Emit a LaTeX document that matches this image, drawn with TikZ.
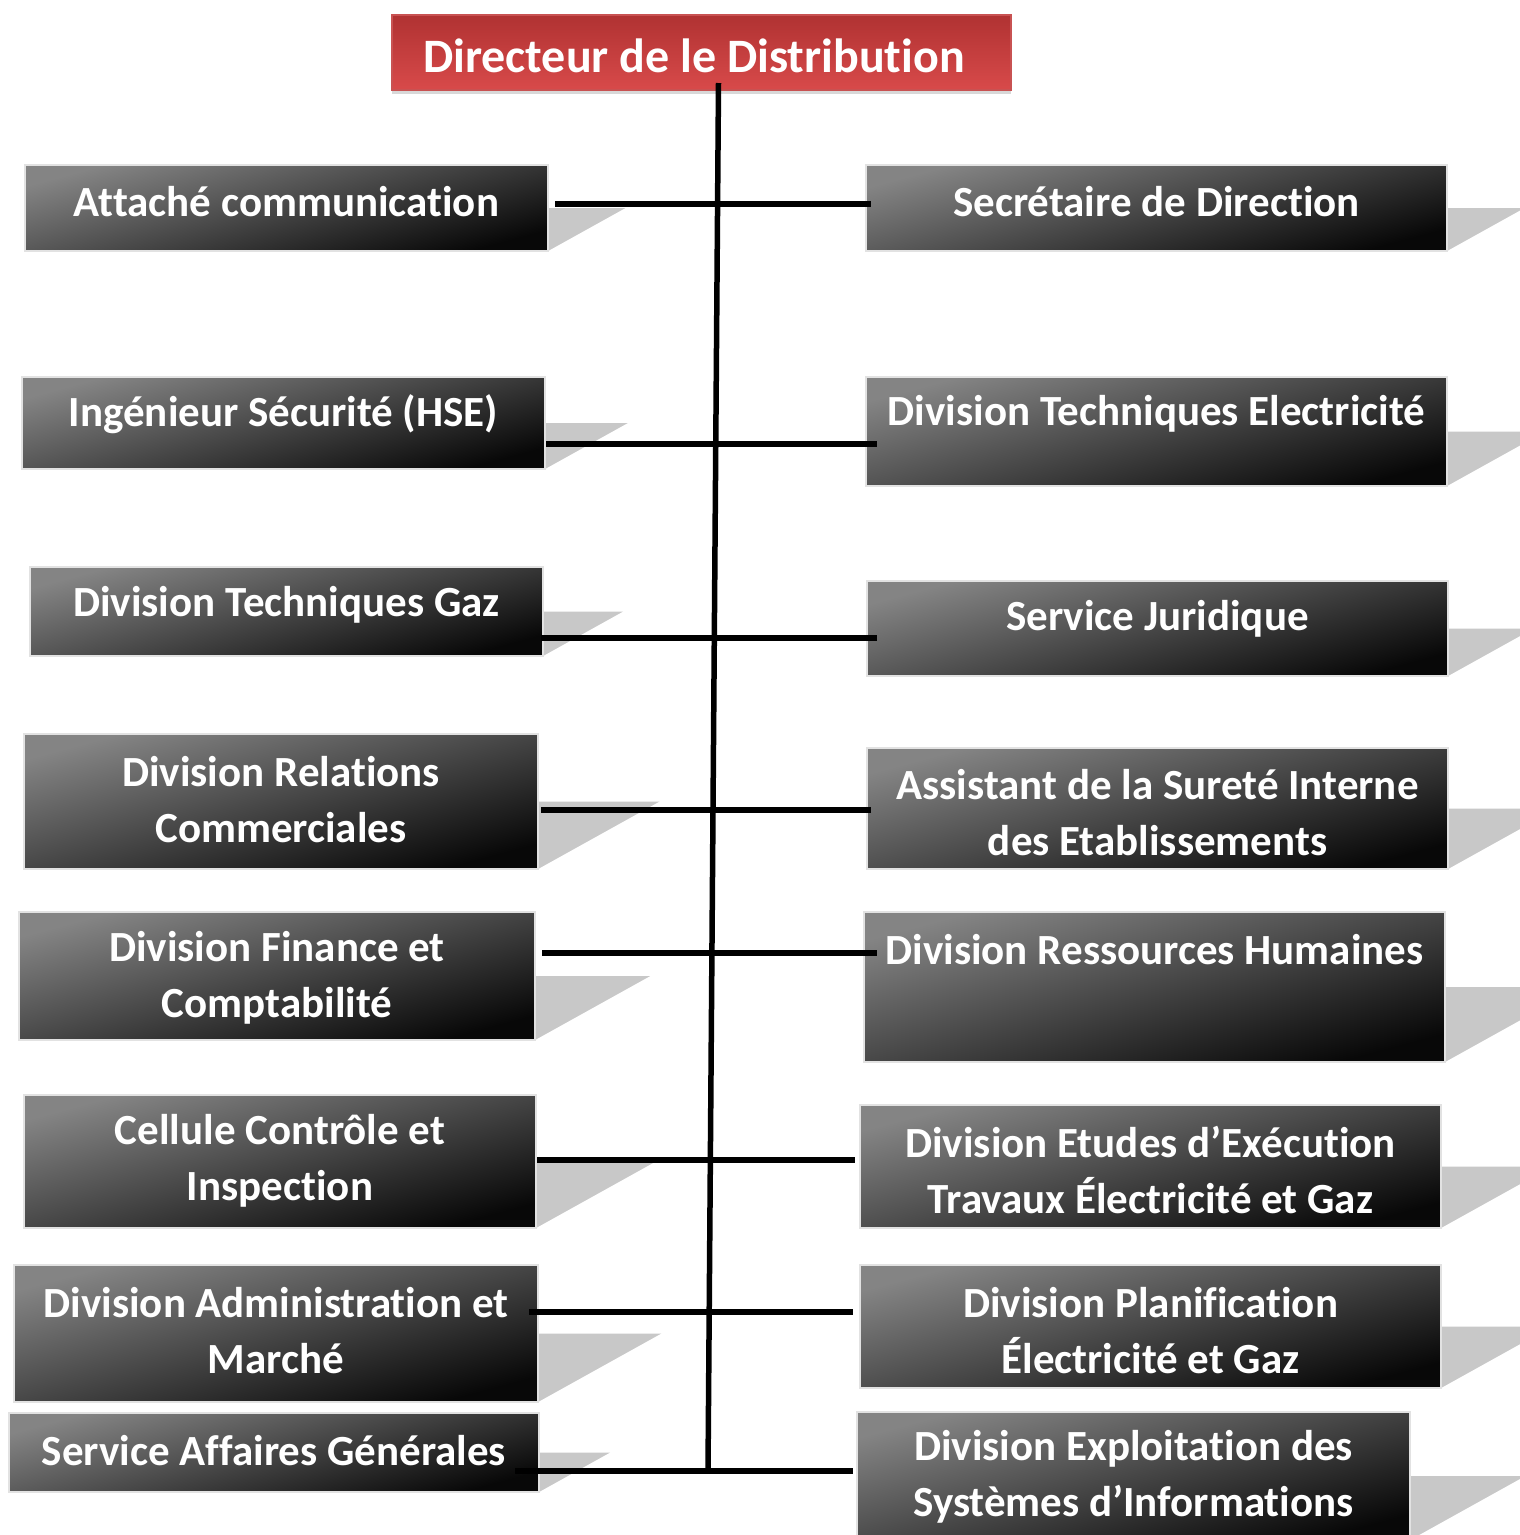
\documentclass[tikz,border=0pt]{standalone}
\usepackage{fontspec}
\setmainfont{Carlito}[Ligatures=NoCommon]
\usetikzlibrary{shadows}
\definecolor{boxlight}{RGB}{132,132,132}
\definecolor{boxdark}{RGB}{8,8,8}
\definecolor{boxedge}{RGB}{226,226,226}
\definecolor{sidegray}{RGB}{200,200,200}
\definecolor{redtop}{RGB}{176,50,50}
\definecolor{redbot}{RGB}{216,74,74}
\definecolor{rededge}{RGB}{200,82,82}
\tikzset{
  orgbox/.style={draw=boxedge, line width=2.5pt, top color=boxlight, bottom color=boxdark, shading angle=15, inner sep=0pt},
  orgtext/.style={text=white, font=\bfseries\fontsize{43}{56}\selectfont, align=center, inner sep=0pt},
  dirbox/.style={draw=rededge, line width=2pt, top color=redtop, bottom color=redbot, inner sep=0pt,
    drop shadow={shadow xshift=0pt, shadow yshift=-4pt, opacity=0.3}},
  dirtext/.style={text=white, font=\bfseries\fontsize{48}{56}\selectfont, inner sep=0pt},
  conn/.style={line width=5.5pt, black},
  sidetri/.style={fill=sidegray},
}
\newcommand\obox[7]{%
  \pgfmathsetmacro\oym{(#3+#5)/2}%
  \pgfmathsetmacro\osw{0.9*(#5-#3)}%
  \fill[sidetri] (#4,\oym) -- ++(\osw,0) -- (#4,#5) -- cycle;
  \node[orgbox, minimum width={#4-#2}, minimum height={#5-#3}] (#1) at ({(#2+#4)/2},{(#3+#5)/2}) {};
  \node[orgtext] (#1t) at ({(#2+#4)/2},#6) {#7};
}
\begin{document}
\begin{tikzpicture}[x=1pt,y=-1pt]
\useasboundingbox (0,0) rectangle (1520,1535);
\clip (0,0) rectangle (1520,1535);
\fill[white] (0,0) rectangle (1520,1535);

\node[dirbox, minimum width=619, minimum height=75] (dir) at (701.5,52.5) {};
\node[dirtext] (dirt) at (694,56) {Directeur de le Distribution};

\obox{l1}{25}{165}{548}{251}{202}{Attaché communication}
\obox{l2}{22}{377}{545}{469}{414}{Ingénieur Sécurité (HSE)}
\obox{l3}{30}{567}{543}{656}{605}{Division Techniques Gaz}
\obox{l4}{24}{734}{538}{869}{800}{Division Relations\\Commerciales}
\obox{l5}{19}{912}{535}{1040}{978}{Division Finance et\\Comptabilité}
\obox{l6}{24}{1095}{536}{1228}{1161}{Cellule Contrôle et\\Inspection}
\obox{l7}{14}{1265}{538}{1402}{1331}{Division Administration et\\Marché}
\obox{l8}{9}{1413}{539}{1492}{1451}{Service Affaires Générales}

\obox{r1}{866}{165}{1447}{251}{202}{Secrétaire de Direction}
\obox{r2}{866}{377}{1447}{486}{414}{Division Techniques Electricité}
\obox{r3}{867}{581}{1448}{676}{619}{Service Juridique}
\obox{r4}{867}{748}{1448}{869}{813}{Assistant de la Sureté Interne\\des Etablissements}
\obox{r5}{864}{912}{1445}{1062}{950}{Division Ressources Humaines}
\obox{r6}{860}{1105}{1441}{1228}{1170}{Division Etudes d’Exécution\\Travaux Électricité et Gaz}
\obox{r7}{860}{1265}{1441}{1388}{1331}{Division Planification\\Électricité et Gaz}
\obox{r8}{857}{1412}{1410}{1540}{1477}{Division Exploitation des\\Systèmes d’Informations}

\coordinate (tb) at (708,1471);
\draw[conn] ([shift={(17,-8)}]dir.south) -- (tb);

\coordinate (j1) at (716,204);
\coordinate (j2) at (715,444);
\coordinate (j3) at (714,638);
\coordinate (j4) at (713,810);
\coordinate (j5) at (712,953);
\coordinate (j6) at (711,1160);
\coordinate (j7) at (710,1312);
\coordinate (j8) at (708,1471);

\draw[conn, shorten <=6pt, shorten >=-6pt] (l1.east |- j1) -- (r1.west |- j1);
\draw[conn, shorten <=0pt, shorten >=-12pt] (l2.east |- j2) -- (r2.west |- j2);
\draw[conn, shorten <=-3pt, shorten >=-11pt] (l3.east |- j3) -- (r3.west |- j3);
\draw[conn, shorten <=2pt, shorten >=-5pt] (l4.east |- j4) -- (r4.west |- j4);
\draw[conn, shorten <=6pt, shorten >=-14pt] (l5.east |- j5) -- (r5.west |- j5);
\draw[conn, shorten <=0pt, shorten >=4pt] (l6.east |- j6) -- (r6.west |- j6);
\draw[conn, shorten <=-10pt, shorten >=6pt] (l7.east |- j7) -- (r7.west |- j7);
\draw[conn, shorten <=-25pt, shorten >=3pt] (l8.east |- j8) -- (r8.west |- j8);
\end{tikzpicture}
\end{document}
